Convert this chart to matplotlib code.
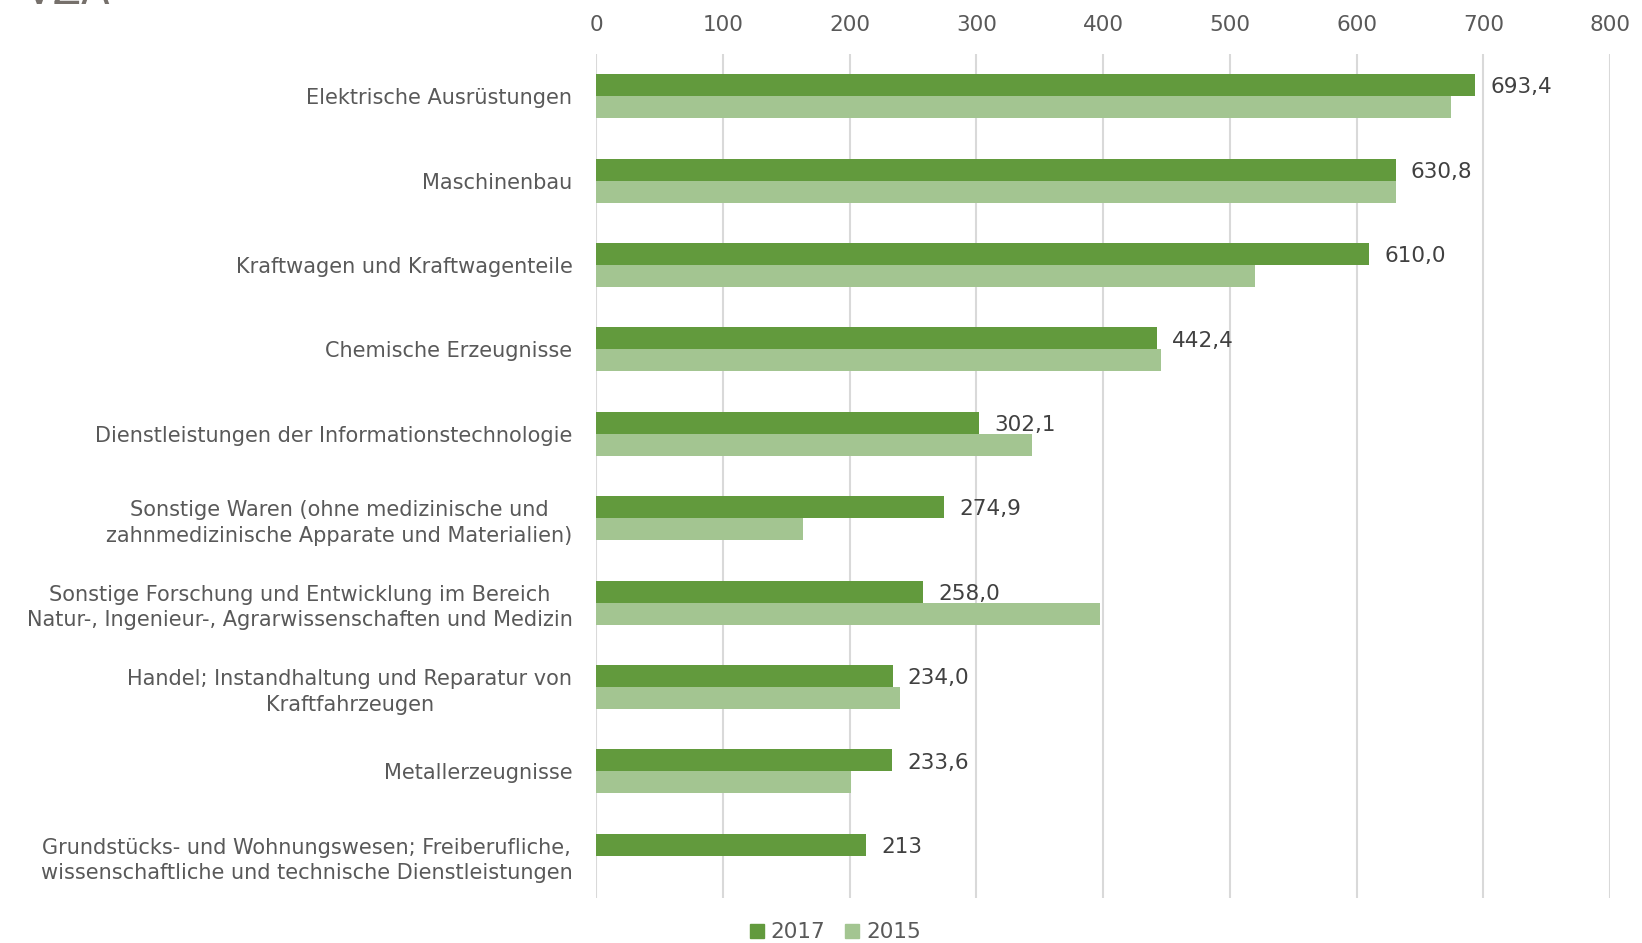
import matplotlib
matplotlib.use("Agg")
import matplotlib.pyplot as plt
from matplotlib.lines import Line2D
import numpy as np

categories = [
    "Elektrische Ausrüstungen",
    "Maschinenbau",
    "Kraftwagen und Kraftwagenteile",
    "Chemische Erzeugnisse",
    "Dienstleistungen der Informationstechnologie",
    "Sonstige Waren (ohne medizinische und\nzahnmedizinische Apparate und Materialien)",
    "Sonstige Forschung und Entwicklung im Bereich\nNatur-, Ingenieur-, Agrarwissenschaften und Medizin",
    "Handel; Instandhaltung und Reparatur von\nKraftfahrzeugen",
    "Metallerzeugnisse",
    "Grundstücks- und Wohnungswesen; Freiberufliche,\nwissenschaftliche und technische Dienstleistungen",
]
values_2017 = [693.4, 630.8, 610.0, 442.4, 302.1, 274.9, 258.0, 234.0, 233.6, 213]
values_2015 = [674.5, 630.8, 520.0, 445.5, 344.0, 163.0, 397.5, 240.0, 201.0, 0]
labels_2017 = ["693,4", "630,8", "610,0", "442,4", "302,1", "274,9", "258,0", "234,0", "233,6", "213"]
xticks = [0, 100, 200, 300, 400, 500, 600, 700, 800]

c2017 = "#629A3D"
c2015 = "#A3C591"
grid_c = "#D9D9D9"
txt_c = "#595959"

fig = plt.figure(figsize=(16.42, 9.43), dpi=100)
ax = fig.add_axes([596/1642, 1 - 898/943, (1610-596)/1642, (898-54)/943])

y = np.arange(len(categories))
h = 0.26
ax.barh(y - h/2, values_2017, height=h, color=c2017, label="2017", zorder=3)
ax.barh(y + h/2, values_2015, height=h, color=c2015, label="2015", zorder=3)

for yi, v, lab in zip(y, values_2017, labels_2017):
    ax.annotate(lab, xy=(v, yi - h/2), xytext=(11, -1.5), textcoords="offset points",
                va="center", ha="left", fontsize=15.5, color="#404040")

ax.set_xlim(0, 800)
ax.set_ylim(len(categories) - 0.5, -0.5)
ax.set_xticks(xticks)
ax.set_xticklabels([str(t) for t in xticks])
ax.xaxis.tick_top()
ax.tick_params(axis="x", length=0, pad=14, labelsize=15.5, labelcolor=txt_c)
ax.set_yticks(y)
ax.set_yticklabels(categories)
for t in ax.get_yticklabels():
    t.set_multialignment("center")
    t.set_linespacing(1.35)
ax.tick_params(axis="y", length=0, pad=17, labelsize=15, labelcolor=txt_c)
ax.grid(axis="x", color=grid_c, linewidth=1.5, zorder=0)
ax.set_axisbelow(True)
for s in ax.spines.values():
    s.set_visible(False)

handles = [Line2D([], [], marker="s", linestyle="none", markersize=10, color=c2017),
           Line2D([], [], marker="s", linestyle="none", markersize=10, color=c2015)]
fig.legend(handles, ["2017", "2015"], loc="lower center", bbox_to_anchor=(0.506, -0.02),
           ncol=2, frameon=False, fontsize=15.5, labelcolor=txt_c,
           handletextpad=-0.1, columnspacing=0.5, handlelength=1.5)

fig.text(25/1642, 1 - 4/943, "VZÄ", fontsize=30, color="#76706B", ha="left", va="baseline")

fig.savefig("out.png", dpi=100)
